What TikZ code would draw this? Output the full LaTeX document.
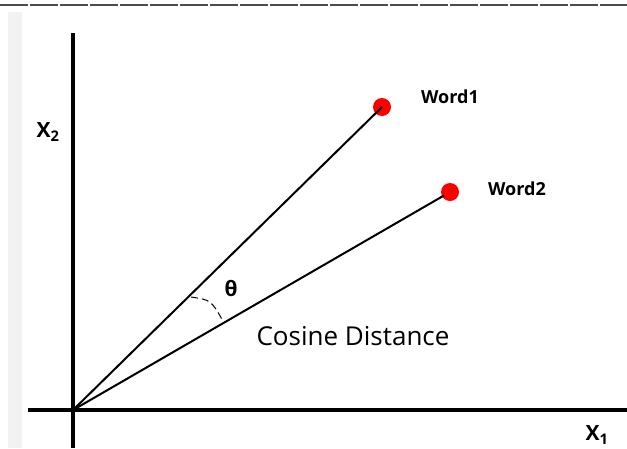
\documentclass[tikz,border=0pt]{standalone}
\usepackage{fontspec}
\setmainfont{Open Sans}
\begin{document}
\begin{tikzpicture}[x=1pt,y=-1pt,
  axis/.style={line width=3.5pt,black},
  vec/.style={line width=2pt,black},
  dot/.style={circle,fill=red,inner sep=0pt,minimum width=18pt,minimum height=16pt},
  wlabel/.style={font=\bfseries\fontsize{18}{20}\selectfont,anchor=center},
  axlabel/.style={font=\bfseries\fontsize{21}{24}\selectfont,anchor=center}]
\useasboundingbox (0,0) rectangle (627,448);
\fill[gray!10] (8,12) rectangle (22,448);
\draw[line width=1.5pt,gray!60!black,dash pattern=on 28pt off 2pt] (0,5) -- (627,5);
\coordinate (O) at (73,410);
\coordinate (ytop) at (73,33);
\coordinate (ybot) at (73,448);
\coordinate (xl) at (28,410);
\coordinate (xr) at (627,410);
\draw[axis] (ytop) -- (ybot);
\draw[axis] (xl) -- (xr);
\node[dot] (w1) at (382,107) {};
\node[dot] (w2) at (450,192) {};
\draw[vec] (O) -- (w1.center);
\draw[vec,shorten >=7pt] (O) -- (w2.center);
\node[wlabel] (l1) at (450,97) {Word1};
\node[wlabel] (l2) at (517,189) {Word2};
\node[axlabel] (x2) at (48,132) {X\textsubscript{2}};
\node[axlabel] (x1) at (597,435) {X\textsubscript{1}};
\node[font=\bfseries\fontsize{21}{24}\selectfont] (th) at (231,289) {θ};
\coordinate (as) at (191,297);
\coordinate (ae) at (223,321);
\draw[line width=1pt,dash pattern=on 7pt off 4pt] (as) .. controls (211,300) .. (ae);
\node[font=\fontsize{26}{30}\selectfont] (cd) at (353,336) {Cosine Distance};
\end{tikzpicture}
\end{document}
